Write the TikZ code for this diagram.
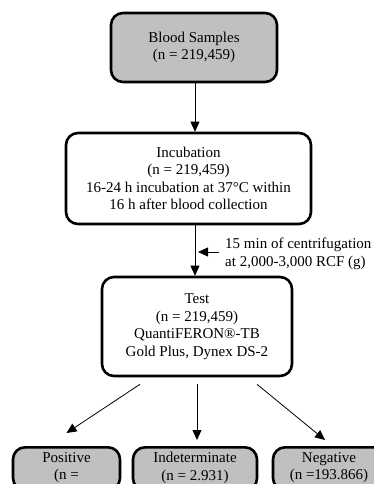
\documentclass[tikz,border=0pt]{standalone}
\usepackage{fontspec}
\setmainfont{Liberation Serif}
\usepackage{xcolor}
\usetikzlibrary{arrows.meta}

\definecolor{boxgray}{RGB}{192,192,192}

\begin{document}
\begin{tikzpicture}[x=1pt,y=-1pt,
        font=\fontsize{15}{17.5}\selectfont,
        stepbox/.style={draw=black,line width=2.6pt,rounded corners=12pt,align=center,inner sep=0pt},
        arr/.style={draw=black,line width=0.8pt,-{Triangle[width=9pt,length=10pt]}}]
        \clip (0,0) rectangle (374,484);

        \node[stepbox,fill=boxgray,minimum width=166pt,minimum height=69pt] (blood) at (194,47.5) {Blood Samples\\(n = 219,459)}; %blood
        \node[stepbox,fill=white,minimum width=245pt,minimum height=91pt] (incub) at (188.5,178.5) {Incubation\\(n = 219,459)\\16-24 h incubation at 37°C within\\16 h after blood collection}; %incubation
        \node[stepbox,fill=white,minimum width=190pt,minimum height=99pt] (test) at (197,326.5) {Test\\(n = 219,459)\\QuantiFERON®-TB\\Gold Plus, Dynex DS-2}; %test

        \node[stepbox,fill=boxgray,anchor=north,minimum width=107pt,inner ysep=5pt] (pos) at (66.5,446) {Positive\\(n =\strut\hspace{2.2em}}; %positive
        \node[stepbox,fill=boxgray,anchor=north,minimum width=124pt,inner ysep=5pt] (ind) at (195,446) {Indeterminate\\(n = 2.931)\strut}; %indeterminate
        \node[stepbox,fill=boxgray,anchor=north,minimum width=112pt,inner ysep=5pt] (neg) at (329,446) {Negative\\(n =193.866)\strut}; %negative

        \coordinate (axis) at (195,0);
        \coordinate (cfg) at (198,252);
        \node[anchor=west,align=left,inner xsep=6pt,inner ysep=0pt] (centri) at (219,254) {15 min of centrifugation\\at 2,000-3,000 RCF (g)}; %centrifugation

        \draw[arr] (blood.south -| axis) -- (incub.north -| axis);
        \draw[arr] (incub.south -| axis) -- (test.north -| axis);
        \draw[arr] (centri.west |- cfg) -- (cfg);

        \draw[arr] ([xshift=-57pt,yshift=-7pt]test.south) -- ([yshift=13pt]pos.north);
        \draw[arr] ([yshift=-7pt]test.south) -- ([xshift=2pt,yshift=6pt]ind.north);
        \draw[arr] ([xshift=60pt,yshift=-7pt]test.south) -- ([xshift=-4pt,yshift=6pt]neg.north);
    \end{tikzpicture}
\end{document}
